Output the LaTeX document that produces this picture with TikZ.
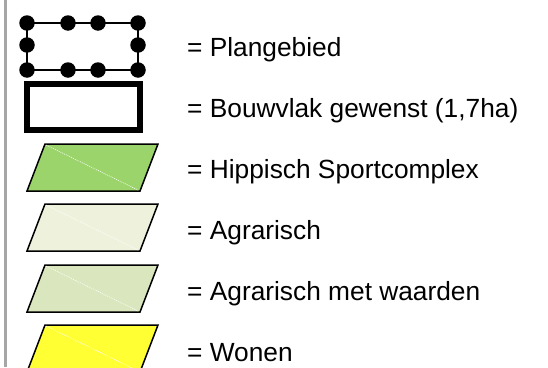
\documentclass[tikz,border=0pt]{standalone}
\usepackage{fontspec}
\setmainfont{Liberation Sans}
\definecolor{hippisch}{HTML}{9BD46B}
\definecolor{agrarisch}{HTML}{EEF2DC}
\definecolor{agrwaard}{HTML}{DAE6BD}
\definecolor{wonen}{HTML}{FFFF33}
\definecolor{sidegrey}{HTML}{A6A6A6}
\tikzset{
  legtext/.style={anchor=base west, inner sep=0pt, font=\fontsize{26.3}{31}\selectfont},
  dotpt/.style={fill=black, circle, inner sep=0pt, minimum size=15.5pt},
  para/.style={draw=black, line width=1.5pt, line join=miter},
  diag/.style={draw=white, line width=0.6pt, dash pattern=on 1pt off 1pt},
}
\begin{document}
\begin{tikzpicture}[x=1pt,y=-1pt]
\useasboundingbox (0,0) rectangle (548,367);
\begin{scope}
\clip (0,0) rectangle (548,367);
% side line
\draw[sidegrey, line width=3pt] (5.5,0) -- (5.5,367);
% Plangebied
\draw[line width=1.5pt] (27,23) rectangle (138,70);
\foreach \x/\y [count=\i] in {27/23,68/23,98/23,138/23,27/45,138/45,27/70,68/70,98/70,138/70}
  \node[dotpt] (d\i) at (\x,\y) {};
% Bouwvlak
\draw[line width=6pt] (27,84) rectangle (140,130);
% parallelograms
\foreach \t/\c/\n in {144/hippisch/p1,204/agrarisch/p2,265/agrwaard/p3,325/wonen/p4}{
  \path[para, fill=\c] (45,\t) -- (158,\t) -- (140,\t+47) -- (27,\t+47) -- cycle;
  \draw[diag] (46,\t+1) -- (138,\t+46);
}
\end{scope}
\node[legtext] (t1) at (187,56) {= Plangebied};
\node[legtext] (t2) at (187,117) {= Bouwvlak gewenst (1,7ha)};
\node[legtext] (t3) at (187,178) {= Hippisch Sportcomplex};
\node[legtext] (t4) at (187,239) {= Agrarisch};
\node[legtext] (t5) at (187,300) {= Agrarisch met waarden};
\node[legtext] (t6) at (187,361) {= Wonen};
\end{tikzpicture}
\end{document}
